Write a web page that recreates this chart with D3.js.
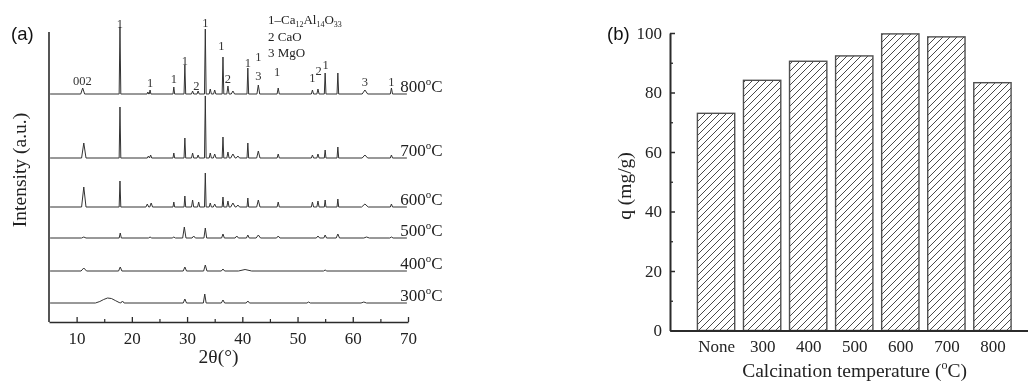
<!DOCTYPE html>
<html><head><meta charset="utf-8">
<script src="https://cdn.jsdelivr.net/npm/d3@7/dist/d3.min.js"></script>
<style>
body{margin:0;background:#fff;}
svg{display:block;will-change:transform;}
text{font-family:"Liberation Serif","Times New Roman",serif;fill:#222;-webkit-font-smoothing:antialiased;}
text.sans{font-family:"Liberation Sans",Arial,sans-serif;}
</style></head>
<body>
<svg id="c" width="1028" height="385"></svg>
<script>
// ---------- DATA: panel (a) XRD patterns ----------
// each peak: [2theta, height (a.u.), half-width (deg)]
const samples = ["800", "700", "600", "500", "400", "300"];
const offsets = [228, 164, 115, 84, 51, 19];
const peaks800 = [[11.1,6,0.35],[17.85,67,0.15],[22.9,2,0.15],[23.3,4,0.15],[27.6,7,0.15],[29.6,29,0.15],[31.0,3,0.2],[32.0,3,0.2],[33.3,65,0.15],[34.2,5,0.2],[35.0,4,0.2],[36.5,37,0.15],[37.4,8,0.2],[38.3,3,0.3],[41.0,26,0.15],[42.9,9,0.25],[46.5,6,0.2],[52.7,4,0.2],[53.7,5,0.2],[55.0,21,0.15],[57.3,21,0.15],[62.2,4,0.5],[67.0,6,0.2]];
const peaks700 = [[11.3,15,0.4],[17.85,51,0.15],[23.0,2,0.2],[23.4,3,0.2],[27.6,5,0.15],[29.6,20,0.15],[31.0,5,0.2],[32.0,3,0.2],[33.3,62,0.15],[34.2,5,0.2],[35.0,4,0.25],[36.5,21,0.15],[37.4,6,0.2],[38.3,4,0.4],[39.2,2,0.3],[41.0,15,0.15],[42.9,7,0.3],[46.5,4,0.2],[52.7,3,0.2],[53.7,4,0.2],[55.0,8,0.15],[57.3,11,0.15],[62.2,3,0.5],[67.0,3,0.2]];
const peaks600 = [[11.3,20,0.4],[17.85,26,0.15],[22.8,3,0.25],[23.5,4,0.25],[27.6,5,0.15],[29.6,11,0.15],[31.0,7,0.2],[32.1,5,0.2],[33.3,34,0.15],[34.2,4,0.2],[35.0,3,0.25],[36.5,10,0.15],[37.4,6,0.2],[38.3,4,0.4],[39.2,2,0.3],[41.0,9,0.15],[42.9,7,0.3],[46.5,5,0.2],[52.7,5,0.2],[53.7,6,0.2],[55.0,7,0.15],[57.3,8,0.15],[62.2,3,0.6],[67.0,3,0.2]];
const peaks500 = [[11.3,1,0.4],[17.9,5,0.2],[23.3,1,0.3],[27.6,1,0.3],[29.5,11,0.3],[31.2,2,0.3],[33.3,10,0.25],[36.5,4,0.25],[39.0,2,0.3],[41.0,3,0.25],[42.9,3,0.4],[46.5,2,0.3],[53.7,2,0.3],[55.0,3,0.25],[57.3,4,0.3],[62.5,1,0.5],[67.0,1,0.3]];
const peaks400 = [[11.3,3,0.5],[17.9,4,0.3],[29.6,4,0.3],[33.3,6,0.3],[36.5,2,0.3],[40.5,1.5,1.2],[55.0,1,0.3]];
const peaks300 = [[18.3,2,0.3],[29.6,4,0.3],[33.2,9,0.25],[36.5,3,0.3],[41.0,2,0.3],[52.0,1,0.3],[62.0,1,0.5]];
// broad amorphous hump of the 300 °C pattern, read point by point: [2theta, height]
const hump300 = [[13.4,0],[14.2,1.5],[14.9,3.5],[15.6,5],[16.3,4.5],[17.0,2.5],[17.7,0.5]];
const allPeaks = [peaks800, peaks700, peaks600, peaks500, peaks400, peaks300];
const allHumps = [[], [], [], [], [], hump300];
// peak annotations on the 800 pattern: [2theta, label, level (a.u.)]
const peakLabels = [[11.05,"002",237],[17.85,"1",294],[23.3,"1",235],[27.6,"1",239],[29.6,"1",257],[31.7,"2",232],[33.3,"1",295],[36.2,"1",272],[37.4,"2",239],[41.0,"1",255],[42.9,"1",261],[42.9,"3",242],[46.3,"1",246],[52.7,"1",240],[53.8,"2",247],[55.1,"1",253],[62.2,"3",236],[67.0,"1",236]];
const xTicksA = [10,20,30,40,50,60,70];
const xMinorA = [15,25,35,45,55,65];

// ---------- DATA: panel (b) adsorption capacity ----------
const categories = ["None","300","400","500","600","700","800"];
const qValues = [73.0, 84.1, 90.5, 92.3, 99.7, 98.7, 83.3];
const yTicksB = [0,20,40,60,80,100];
const yMinorB = [10,30,50,70,90];

// ---------- DRAW ----------
const svg = d3.select("#c");
const ink = "#2b2b2b";

// Panel (a)
const xA = d3.scaleLinear().domain([5,70]).range([49,408]);
const yA = d3.scaleLinear().domain([0,300]).range([322,22]);

const gA = svg.append("g");
gA.append("line").attr("x1",xA(5)).attr("x2",xA(5)).attr("y1",yA(0)).attr("y2",yA(290))
  .attr("stroke",ink).attr("stroke-width",1.6);
const axA = gA.append("g").attr("transform",`translate(0,${yA(0)})`)
  .call(d3.axisBottom(xA).tickValues(xTicksA).tickSizeInner(-5).tickSizeOuter(0).tickPadding(10));
axA.select(".domain").attr("stroke",ink).attr("stroke-width",1.6);
axA.selectAll(".tick line").attr("stroke",ink).attr("stroke-width",1.3);
axA.selectAll("text").attr("font-family",null).attr("font-size",17).attr("fill",ink);
const axAm = gA.append("g").attr("transform",`translate(0,${yA(0)})`)
  .call(d3.axisBottom(xA).tickValues(xMinorA).tickSize(-3).tickFormat(""));
axAm.select(".domain").remove();
axAm.selectAll(".tick line").attr("stroke",ink).attr("stroke-width",1.2);

function tracePoints(pk, hump, off){
  const pts = [[5.2, off], [69.8, off]];
  pk.forEach(p=>{
    pts.push([p[0]-p[2], off]); pts.push([p[0], off+p[1]]); pts.push([p[0]+p[2], off]);
  });
  hump.forEach(h=>pts.push([h[0], off+h[1]]));
  return pts.sort((a,b)=>a[0]-b[0]);
}
const line = d3.line().x(d=>xA(d[0])).y(d=>yA(d[1]));
allPeaks.forEach((pk,i)=>{
  gA.append("path").attr("d", line(tracePoints(pk, allHumps[i], offsets[i])))
    .attr("fill","none").attr("stroke","#333").attr("stroke-width",1).attr("stroke-linejoin","round");
  const t = gA.append("text").attr("x", xA(68.6)).attr("y", yA(offsets[i]) - 2)
    .attr("font-size",17).attr("fill",ink);
  t.append("tspan").text(samples[i]);
  t.append("tspan").attr("font-size",11).attr("dy",-7).text("o");
  t.append("tspan").attr("dy",7).text("C");
});
gA.selectAll("text.pl").data(peakLabels).enter().append("text").attr("class","pl")
  .attr("x",d=>xA(d[0])).attr("y",d=>yA(d[2])).attr("text-anchor","middle")
  .attr("font-size",12.5).style("fill","#333").text(d=>d[1]);
// legend
const lg = gA.append("g").attr("font-size",13).attr("fill",ink);
const l1 = lg.append("text").attr("x",268).attr("y",24);
l1.append("tspan").text("1\u2013Ca");
l1.append("tspan").attr("font-size",8).attr("dy",2.5).text("12");
l1.append("tspan").attr("dy",-2.5).text("Al");
l1.append("tspan").attr("font-size",8).attr("dy",2.5).text("14");
l1.append("tspan").attr("dy",-2.5).text("O");
l1.append("tspan").attr("font-size",8).attr("dy",2.5).text("33");
lg.append("text").attr("x",268).attr("y",41).text("2  CaO");
lg.append("text").attr("x",268).attr("y",57).text("3  MgO");
// titles
gA.append("text").attr("transform",`translate(26,170) rotate(-90)`).attr("text-anchor","middle")
  .attr("font-size",19.5).attr("fill",ink).text("Intensity (a.u.)");
gA.append("text").attr("x",218.5).attr("y",363).attr("text-anchor","middle")
  .attr("font-size",19.5).attr("fill",ink).text("2\u03b8(\u00b0)");
svg.append("text").attr("class","sans").attr("x",11).attr("y",40).attr("font-size",18.5)
  .style("fill","#111").text("(a)");

// Panel (b)
const xB = d3.scaleLinear().domain([0,8]).range([670,1038.5]);
const yB = d3.scaleLinear().domain([0,100]).range([330.5,33]);
const defs = svg.append("defs");
const pat = defs.append("pattern").attr("id","hatch").attr("patternUnits","userSpaceOnUse")
  .attr("width",7).attr("height",7);
pat.append("rect").attr("width",7).attr("height",7).attr("fill","#fff");
pat.append("path").attr("d","M-1,1 l2,-2 M0,7 l7,-7 M6,8 l2,-2").attr("stroke","#4a4a4a").attr("stroke-width",1);

const gB = svg.append("g");
const bw = 0.81;
gB.selectAll("rect.bar").data(qValues).enter().append("rect").attr("class","bar")
  .attr("x",(d,i)=>xB(i+1-bw/2)).attr("width",xB(bw)-xB(0))
  .attr("y",d=>yB(d)).attr("height",d=>yB(0)-yB(d))
  .attr("fill","url(#hatch)").attr("stroke","#505050").attr("stroke-width",1.4);

const axBy = gB.append("g").attr("transform",`translate(${xB(0)},0)`)
  .call(d3.axisLeft(yB).tickValues(yTicksB).tickSizeInner(-5).tickSizeOuter(0).tickPadding(8));
axBy.select(".domain").attr("stroke",ink).attr("stroke-width",2);
axBy.selectAll(".tick line").attr("stroke",ink).attr("stroke-width",1.5);
axBy.selectAll("text").attr("font-family",null).attr("font-size",17).attr("fill",ink);
const axBym = gB.append("g").attr("transform",`translate(${xB(0)},0)`)
  .call(d3.axisLeft(yB).tickValues(yMinorB).tickSize(-3).tickFormat(""));
axBym.select(".domain").remove();
axBym.selectAll(".tick line").attr("stroke",ink).attr("stroke-width",1.3);

const axBx = gB.append("g").attr("transform",`translate(0,${yB(0)})`)
  .call(d3.axisBottom(xB).tickValues(d3.range(1,categories.length+1)).tickFormat(i=>categories[i-1]).tickSize(0).tickPadding(9));
axBx.select(".domain").attr("stroke",ink).attr("stroke-width",2);
axBx.selectAll("text").attr("font-family",null).attr("font-size",17).attr("fill",ink);

gB.append("text").attr("transform",`translate(631,186) rotate(-90)`).attr("text-anchor","middle")
  .attr("font-size",19.5).attr("fill",ink).text("q (mg/g)");
const xt = gB.append("text").attr("x",854.5).attr("y",377).attr("text-anchor","middle")
  .attr("font-size",19.5).attr("fill",ink);
xt.append("tspan").text("Calcination temperature (");
xt.append("tspan").attr("font-size",12).attr("dy",-8).text("o");
xt.append("tspan").attr("dy",8).text("C)");
svg.append("text").attr("class","sans").attr("x",607).attr("y",40).attr("font-size",18.5)
  .style("fill","#111").text("(b)");
</script>
</body></html>
